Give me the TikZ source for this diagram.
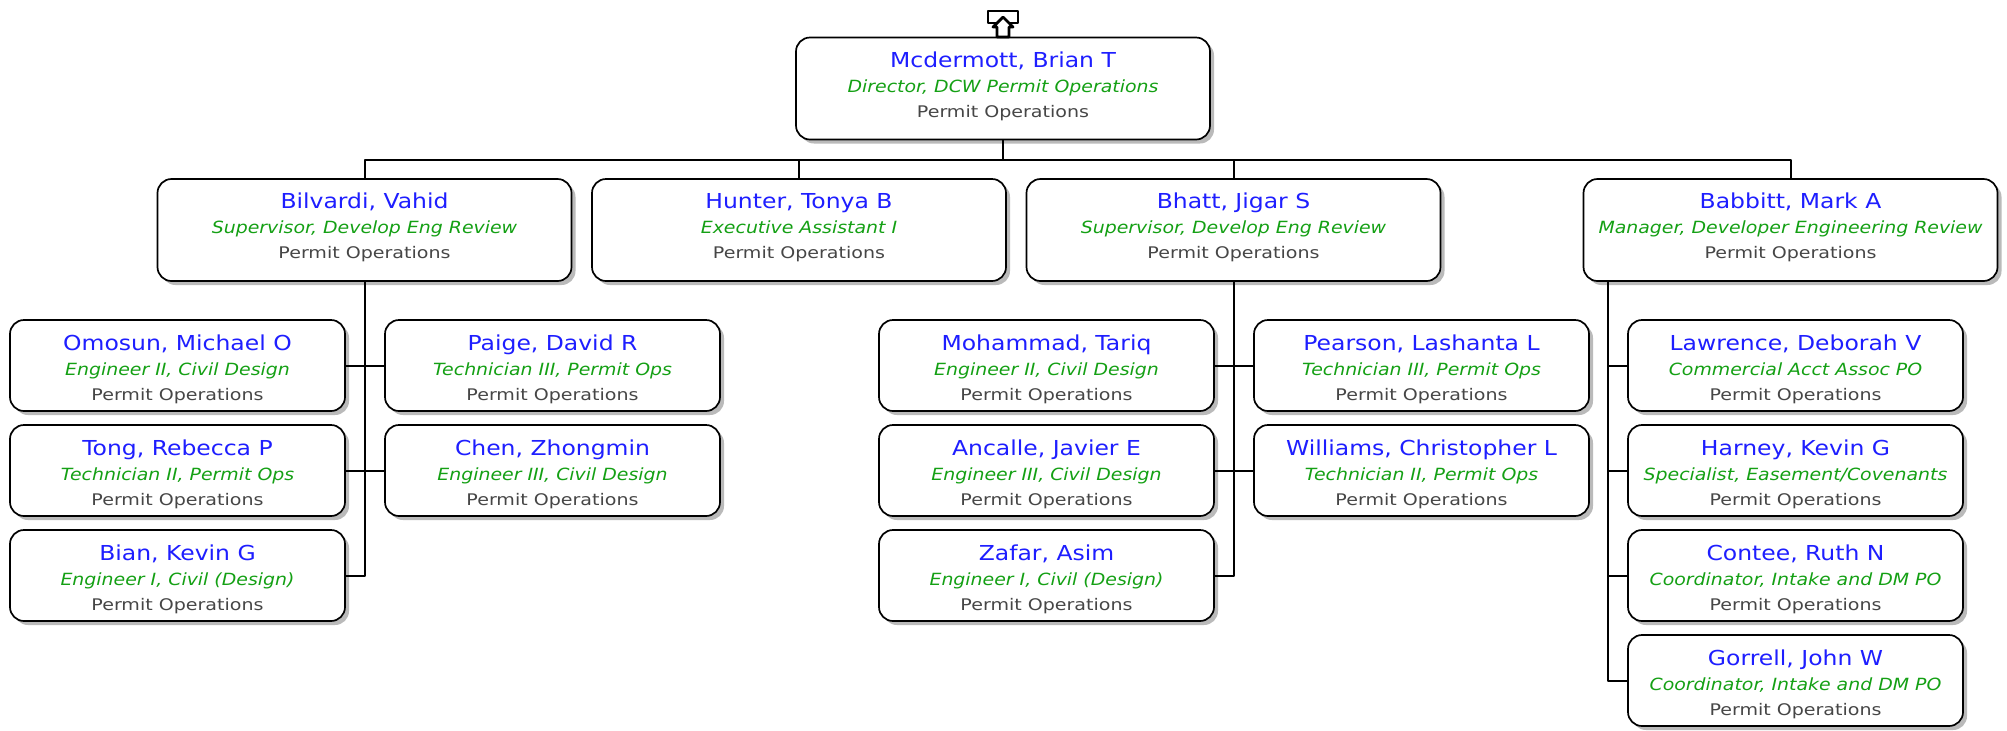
\documentclass[tikz,border=0pt]{standalone}
\usepackage{fontspec}
\setmainfont{DejaVu Sans}
\newfontfamily\namefont[FakeStretch=1.14]{DejaVu Sans}
\newfontfamily\titlefont[FakeStretch=1.125]{DejaVu Sans}
\newfontfamily\deptfont[FakeStretch=1.19]{DejaVu Sans}
\usetikzlibrary{shadows}
\definecolor{nameblue}{RGB}{30,30,255}
\definecolor{titlegreen}{RGB}{20,160,20}
\definecolor{deptgray}{RGB}{70,70,70}
\tikzset{
	staffbox/.style={draw=black, fill=white, rounded corners=7pt, line width=0.85pt, inner sep=0pt, align=center,
		font=\fontsize{8}{12.5}\selectfont,
		drop shadow={shadow xshift=2pt, shadow yshift=-2pt, fill=black!27, opacity=1}},
	headbox/.style={staffbox, minimum width=207pt, minimum height=51pt,
		execute at begin node={\def\leadrule{\rule{0pt}{6pt}}\def\tailrule{\rule[-4pt]{0pt}{4pt}}}},
	crewbox/.style={staffbox, minimum width=167.5pt, minimum height=45.5pt,
		execute at begin node={\def\leadrule{\rule{0pt}{12pt}}\def\tailrule{}}},
	link/.style={line width=1pt}
}
\newcommand{\staff}[2]{{\namefont\fontsize{10.3}{12.5}\selectfont\color{nameblue}\leadrule#1}\\{\titlefont\fontsize{8.4}{12.5}\selectfont\itshape\color{titlegreen}#2}\\{\deptfont\fontsize{8}{12.5}\selectfont\color{deptgray}Permit Operations\tailrule}}
\begin{document}
\begin{tikzpicture}[x=0.5pt, y=-0.5pt, line join=round]
		\useasboundingbox (0,0) rectangle (2007,730);
		% top level
		\node[headbox] (mcdermott) at (1003,88.5) {\staff{Mcdermott, Brian T}{Director, DCW Permit Operations}};
		\node[headbox] (bilvardi) at (364.5,230) {\staff{Bilvardi, Vahid}{Supervisor, Develop Eng Review}};
		\node[headbox] (hunter) at (799,230) {\staff{Hunter, Tonya B}{Executive Assistant I}};
		\node[headbox] (bhatt) at (1233.5,230) {\staff{Bhatt, Jigar S}{Supervisor, Develop Eng Review}};
		\node[headbox] (babbitt) at (1790.5,230) {\staff{Babbitt, Mark A}{Manager, Developer Engineering Review}};
		% under Bilvardi
		\node[crewbox] (omosun) at (177.5,365.5) {\staff{Omosun, Michael O}{Engineer II, Civil Design}};
		\node[crewbox] (tong) at (177.5,470.5) {\staff{Tong, Rebecca P}{Technician II, Permit Ops}};
		\node[crewbox] (bian) at (177.5,575.5) {\staff{Bian, Kevin G}{Engineer I, Civil (Design)}};
		\node[crewbox] (paige) at (552.5,365.5) {\staff{Paige, David R}{Technician III, Permit Ops}};
		\node[crewbox] (chen) at (552.5,470.5) {\staff{Chen, Zhongmin}{Engineer III, Civil Design}};
		% under Bhatt
		\node[crewbox] (mohammad) at (1046.5,365.5) {\staff{Mohammad, Tariq}{Engineer II, Civil Design}};
		\node[crewbox] (ancalle) at (1046.5,470.5) {\staff{Ancalle, Javier E}{Engineer III, Civil Design}};
		\node[crewbox] (zafar) at (1046.5,575.5) {\staff{Zafar, Asim}{Engineer I, Civil (Design)}};
		\node[crewbox] (pearson) at (1421.5,365.5) {\staff{Pearson, Lashanta L}{Technician III, Permit Ops}};
		\node[crewbox] (williams) at (1421.5,470.5) {\staff{Williams, Christopher L}{Technician II, Permit Ops}};
		% under Babbitt
		\node[crewbox] (lawrence) at (1795.5,365.5) {\staff{Lawrence, Deborah V}{Commercial Acct Assoc PO}};
		\node[crewbox] (harney) at (1795.5,470.5) {\staff{Harney, Kevin G}{Specialist, Easement/Covenants}};
		\node[crewbox] (contee) at (1795.5,575.5) {\staff{Contee, Ruth N}{Coordinator, Intake and DM PO}};
		\node[crewbox] (gorrell) at (1795.5,680.5) {\staff{Gorrell, John W}{Coordinator, Intake and DM PO}};
		% connectors
		\foreach \d in {bilvardi, hunter, bhatt, babbitt}
			\draw[link] (mcdermott.south) -- ++(0,20) -| (\d.north);
		\foreach \a/\b in {omosun/paige, tong/chen, mohammad/pearson, ancalle/williams}
			\draw[link] (\a.east) -- (\b.west);
		\draw[link] (bilvardi.south) |- (bian.east);
		\draw[link] (bhatt.south) |- (zafar.east);
		\coordinate (babbittdrop) at (1608,281);
		\draw[link] (babbittdrop) |- (gorrell.west);
		\foreach \d in {lawrence, harney, contee}
			\draw[link] (babbittdrop |- \d.west) -- (\d.west);
		% up arrow
		\draw[line width=1.4pt, fill=white] (988,11) rectangle (1018,23);
		\draw[line width=1.4pt, fill=white] (997,37)--(997,27)--(993,27)--(1003,17)--(1013,27)--(1009,27)--(1009,37)--cycle;
		\end{tikzpicture}
\end{document}
